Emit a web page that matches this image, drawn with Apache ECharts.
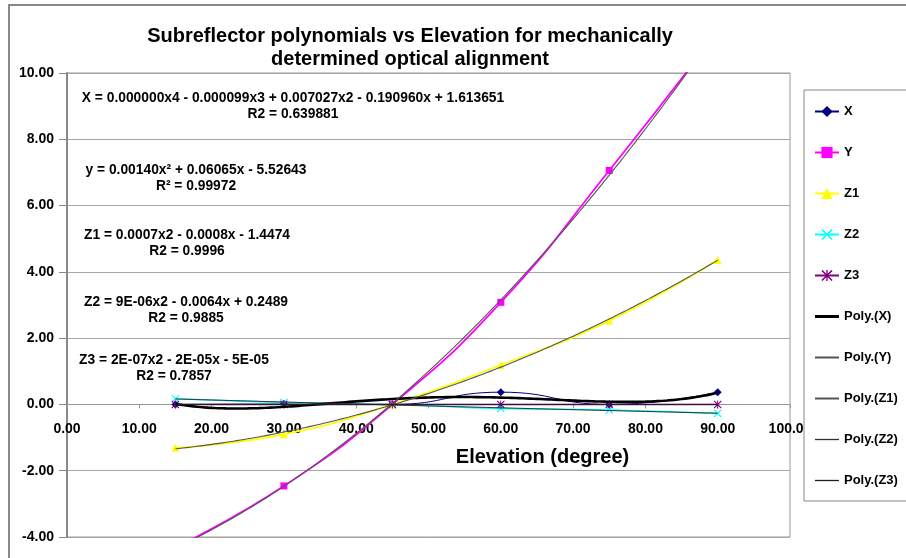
<!DOCTYPE html>
<html>
<head>
<meta charset="utf-8">
<title>Subreflector polynomials vs Elevation</title>
<script src="https://cdn.jsdelivr.net/npm/echarts@6/dist/echarts.min.js"></script>
<style>
  html, body { margin: 0; padding: 0; background: #fff; }
  #chart { width: 906px; height: 558px; }
</style>
</head>
<body>
<div id="chart"></div>
<script>
// Measured offsets against antenna elevation
const elevation = [15, 30, 45, 60, 75, 90];
const seriesX  = [0.00, 0.01, 0.00, 0.37, 0.00, 0.37];
const seriesY  = [-4.32, -2.46, 0.00, 3.08, 7.06, 11.25];
const seriesZ1 = [-1.31, -0.90, 0.00, 1.19, 2.53, 4.36];
const seriesZ2 = [0.17, 0.06, 0.00, -0.12, -0.17, -0.27];
const seriesZ3 = [-0.0003, -0.0005, -0.0005, -0.0005, -0.0004, -0.0002];

const seriesNames = ['X', 'Y', 'Z1', 'Z2', 'Z3'];
const trendNames = ['Poly.(X)', 'Poly.(Y)', 'Poly.(Z1)', 'Poly.(Z2)', 'Poly.(Z3)'];
const trendOrders = [4, 2, 2, 2, 2];

// Axis ranges
const xRange = { min: 0, max: 100, step: 10 };
const yRange = { min: -4, max: 10, step: 2 };

// Trendline labels as printed on the chart
const eqX  = ['X = 0.000000x4 - 0.000099x3 + 0.007027x2 - 0.190960x + 1.613651', 'R2 = 0.639881'];
const eqY  = ['y = 0.00140x\u00B2 + 0.06065x - 5.52643', 'R\u00B2 = 0.99972'];
const eqZ1 = ['Z1 = 0.0007x2 - 0.0008x - 1.4474', 'R2 = 0.9996'];
const eqZ2 = ['Z2 = 9E-06x2 - 0.0064x + 0.2489', 'R2 = 0.9885'];
const eqZ3 = ['Z3 = 2E-07x2 - 2E-05x - 5E-05', 'R2 = 0.7857'];

const chartTitle = 'Subreflector polynomials vs Elevation for mechanically\ndetermined optical alignment';
const xAxisTitle = 'Elevation (degree)';

// Least-squares polynomial fit (x normalised to [-1, 1] for stability)
function polyFit(xs, ys, order) {
  const lo = Math.min(...xs), hi = Math.max(...xs);
  const c = (lo + hi) / 2, s = (hi - lo) / 2;
  const n = order + 1;
  const A = Array.from({ length: n }, () => new Array(n + 1).fill(0));
  xs.forEach((x, k) => {
    const t = (x - c) / s;
    for (let i = 0; i < n; i++) {
      for (let j = 0; j < n; j++) A[i][j] += Math.pow(t, i + j);
      A[i][n] += ys[k] * Math.pow(t, i);
    }
  });
  for (let col = 0; col < n; col++) {
    let piv = col;
    for (let r = col + 1; r < n; r++) if (Math.abs(A[r][col]) > Math.abs(A[piv][col])) piv = r;
    [A[col], A[piv]] = [A[piv], A[col]];
    for (let r = 0; r < n; r++) {
      if (r === col) continue;
      const f = A[r][col] / A[col][col];
      for (let k = col; k <= n; k++) A[r][k] -= f * A[col][k];
    }
  }
  const coef = A.map((row, i) => row[n] / row[i]);
  return x => {
    const t = (x - c) / s;
    return coef.reduce((acc, a, i) => acc + a * Math.pow(t, i), 0);
  };
}

function trendPoints(ys, order) {
  const f = polyFit(elevation, ys, order);
  const pts = [];
  for (let x = elevation[0]; x <= elevation[elevation.length - 1] + 1e-9; x += 0.5) pts.push([x, f(x)]);
  return pts;
}

const pairs = ys => elevation.map((x, i) => [x, ys[i]]);

const FONT = '"Liberation Sans", Arial, sans-serif';
const crossPath = 'path://M0,1 L1,0 L5,4 L9,0 L10,1 L6,5 L10,9 L9,10 L5,6 L1,10 L0,9 L4,5 Z';
const starPath = 'path://M0,1 L1,0 L4.4,3.4 L4.4,0 L5.6,0 L5.6,3.4 L9,0 L10,1 L6,5 L10,9 L9,10 L5.6,6.6 L5.6,10 L4.4,10 L4.4,6.6 L1,10 L0,9 L4,5 Z';

const dataSeriesStyle = [
  { data: seriesX,  color: '#000080', symbol: 'diamond',  size: 8, width: 1 },
  { data: seriesY,  color: '#FF00FF', symbol: 'rect',     size: 7, width: 1.8 },
  { data: seriesZ1, color: '#FFFF00', symbol: 'triangle', size: 8, width: 1.8 },
  { data: seriesZ2, color: '#00FFFF', symbol: crossPath,  size: 8, width: 1.5 },
  { data: seriesZ3, color: '#800080', symbol: starPath,   size: 8, width: 1.5 }
];
const trendStyle = [
  { color: '#000000', width: 2.6, icon: 'path://M0,0 L24,0 L24,3 L0,3 Z' },
  { color: '#555555', width: 1.1, icon: 'path://M0,0 L24,0 L24,2 L0,2 Z' },
  { color: '#555555', width: 1.1, icon: 'path://M0,0 L24,0 L24,2 L0,2 Z' },
  { color: '#303030', width: 1,   icon: 'path://M0,0 L24,0 L24,1.3 L0,1.3 Z' },
  { color: '#202020', width: 1,   icon: 'path://M0,0 L24,0 L24,1.3 L0,1.3 Z' }
];

const series = [];
dataSeriesStyle.forEach((d, i) => {
  series.push({
    name: seriesNames[i],
    type: 'line',
    data: pairs(d.data),
    smooth: 0.5,
    symbol: d.symbol,
    symbolSize: d.size,
    showAllSymbol: true,
    clip: true,
    lineStyle: { color: d.color, width: d.width },
    itemStyle: { color: d.color },
    emphasis: { disabled: true },
    z: 2
  });
});
[seriesX, seriesY, seriesZ1, seriesZ2, seriesZ3].forEach((ys, i) => {
  series.push({
    name: trendNames[i],
    type: 'line',
    data: trendPoints(ys, trendOrders[i]),
    showSymbol: false,
    symbol: 'none',
    clip: true,
    lineStyle: { color: trendStyle[i].color, width: trendStyle[i].width },
    itemStyle: { color: trendStyle[i].color },
    emphasis: { disabled: true },
    z: 3
  });
});

const legendData = seriesNames.map(n => ({ name: n }))
  .concat(trendNames.map((n, i) => ({ name: n, icon: trendStyle[i].icon })));

function eqText(lines, cx, y) {
  return {
    type: 'text', x: cx, y: y, z: 5, silent: true,
    style: {
      text: lines.join('\n'), align: 'center', verticalAlign: 'top',
      font: 'bold 13.8px ' + FONT, lineHeight: 16, fill: '#000'
    }
  };
}

// Plot box and the pixel distance from its bottom edge up to the value 0,
// so the horizontal axis (line, ticks, labels, title) sits on y = 0.
const GRID = { left: 67, top: 73, width: 723, height: 464 };
const zeroLift = GRID.height * (0 - yRange.min) / (yRange.max - yRange.min);

const chart = echarts.init(document.getElementById('chart'), null, { renderer: 'canvas' });
chart.setOption({
  backgroundColor: '#ffffff',
  animation: false,
  title: {
    text: chartTitle,
    left: 410,
    top: 25,
    textAlign: 'center',
    padding: 0,
    textStyle: { fontFamily: FONT, fontWeight: 'bold', fontSize: 20, lineHeight: 23, color: '#000' }
  },
  grid: {
    left: GRID.left, top: GRID.top, width: GRID.width, height: GRID.height,
    outerBoundsMode: 'none',
    containLabel: false,
    show: true, borderColor: '#999999', borderWidth: 1, backgroundColor: '#ffffff'
  },
  xAxis: {
    type: 'value', min: xRange.min, max: xRange.max, interval: xRange.step,
    position: 'bottom',
    offset: -zeroLift,
    axisLine: { show: true, onZero: false, lineStyle: { color: '#999999', width: 1 } },
    axisTick: { show: true, length: 4, lineStyle: { color: '#999999' } },
    splitLine: { show: false },
    axisLabel: {
      margin: 18, color: '#000', fontFamily: FONT, fontWeight: 'bold', fontSize: 14,
      formatter: v => v.toFixed(2)
    },
    name: xAxisTitle,
    nameLocation: 'middle',
    nameGap: 43,
    nameTextStyle: { fontFamily: FONT, fontWeight: 'bold', fontSize: 20, color: '#000', padding: [0, 0, 0, 228] }
  },
  yAxis: {
    type: 'value', min: yRange.min, max: yRange.max, interval: yRange.step,
    axisLine: { show: true, onZero: false, lineStyle: { color: '#888888', width: 2 } },
    axisTick: { show: true, length: 8, lineStyle: { color: '#888888' } },
    splitLine: { show: true, lineStyle: { color: '#a6a6a6', width: 1.2 } },
    axisLabel: {
      margin: 13, color: '#000', fontFamily: FONT, fontWeight: 'bold', fontSize: 14,
      formatter: v => v.toFixed(2)
    }
  },
  legend: {
    orient: 'vertical',
    left: 804, top: 90,
    padding: [15, 110, 14, 10],
    backgroundColor: '#ffffff',
    borderColor: '#888888',
    borderWidth: 1,
    itemWidth: 24, itemHeight: 14, itemGap: 28,
    z: 6,
    data: legendData,
    textStyle: { fontFamily: FONT, fontWeight: 'bold', fontSize: 13, color: '#000' },
    selectedMode: false
  },
  graphic: [
    {
      type: 'rect', z: 0, silent: true,
      shape: { x: 9, y: 5, width: 1000, height: 1000 },
      style: { fill: 'none', stroke: '#888888', lineWidth: 2 }
    },
    eqText(eqX, 293, 90),
    eqText(eqY, 196, 162),
    eqText(eqZ1, 187, 227),
    eqText(eqZ2, 186, 294),
    eqText(eqZ3, 174, 352)
  ],
  series: series
});
</script>
</body>
</html>
